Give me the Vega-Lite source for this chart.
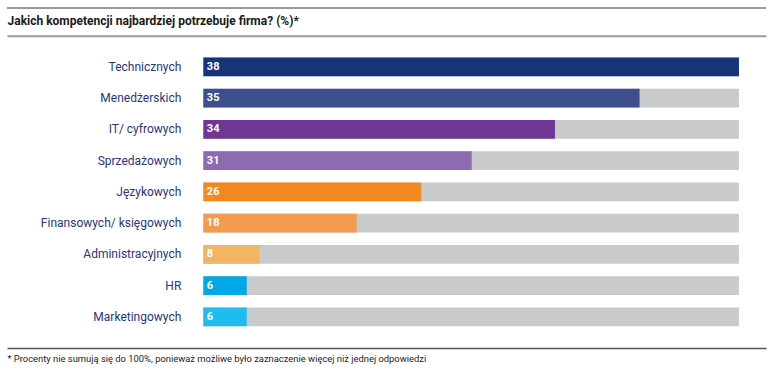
{
  "$schema": "https://vega.github.io/schema/vega-lite/v6.json",
  "width": 759,
  "height": 331.25,
  "autosize": {"type": "none"},
  "padding": {"left": 7, "top": 8, "right": 12, "bottom": 32.75},
  "background": "white",
  "config": {
    "font": "Roboto",
    "view": {"stroke": "#9a9a9a", "strokeWidth": 2, "strokeDash": [759, 3000]}
  },
  "data": {
    "values": [
      {"skill": "Technicznych", "pct": 38, "bar_value": 38},
      {"skill": "Menedżerskich", "pct": 35, "bar_value": 30.95},
      {"skill": "IT/ cyfrowych", "pct": 34, "bar_value": 24.95},
      {"skill": "Sprzedażowych", "pct": 31, "bar_value": 19.04},
      {"skill": "Językowych", "pct": 26, "bar_value": 15.46},
      {"skill": "Finansowych/ księgowych", "pct": 18, "bar_value": 10.88},
      {"skill": "Administracyjnych", "pct": 8, "bar_value": 3.97},
      {"skill": "HR", "pct": 6, "bar_value": 3.08},
      {"skill": "Marketingowych", "pct": 6, "bar_value": 3.08}
    ]
  },
  "encoding": {
    "y": {
      "field": "skill",
      "type": "nominal",
      "sort": null,
      "scale": {"paddingInner": 0.4, "paddingOuter": 1, "align": 0.791},
      "axis": null
    }
  },
  "resolve": {"axis": {"x": "independent"}},
  "layer": [
    {
      "mark": {"type": "bar", "color": "#c9cacc"},
      "encoding": {
        "x": {
          "datum": 38,
          "type": "quantitative",
          "scale": {"domain": [-13.93, 39.92], "nice": false, "zero": false},
          "axis": {
            "orient": "top",
            "offset": -27.7,
            "domain": true,
            "domainColor": "#9a9a9a",
            "domainWidth": 2,
            "ticks": false,
            "labels": false,
            "grid": false,
            "title": "Jakich kompetencji najbardziej potrzebuje firma? (%)*",
            "titleAnchor": "start",
            "titleFont": "Roboto",
            "titleFontWeight": "bold",
            "titleFontSize": 12,
            "titleColor": "#1a1a1a",
            "titlePadding": 8
          }
        },
        "x2": {"datum": 0}
      }
    },
    {
      "mark": {"type": "bar"},
      "encoding": {
        "x": {
          "field": "bar_value",
          "type": "quantitative",
          "axis": {
            "orient": "bottom",
            "offset": 8.75,
            "domain": true,
            "domainColor": "#555555",
            "domainWidth": 1.5,
            "ticks": false,
            "labels": false,
            "grid": false,
            "title": "* Procenty nie sumują się do 100%, ponieważ możliwe było zaznaczenie więcej niż jednej odpowiedzi",
            "titleAnchor": "start",
            "titleFont": "Roboto",
            "titleFontWeight": "normal",
            "titleFontSize": 9.4,
            "titleColor": "#222222",
            "titlePadding": 6
          }
        },
        "x2": {"datum": 0},
        "color": {
          "field": "skill",
          "type": "nominal",
          "scale": {
            "domain": ["Technicznych", "Menedżerskich", "IT/ cyfrowych", "Sprzedażowych", "Językowych", "Finansowych/ księgowych", "Administracyjnych", "HR", "Marketingowych"],
            "range": ["#15357a", "#3d4f8f", "#6e3795", "#8d6bb1", "#f28a21", "#f49c4e", "#f2b563", "#00a8e8", "#1dbdef"]
          },
          "legend": null
        }
      }
    },
    {
      "mark": {"type": "text", "align": "right", "baseline": "middle", "dx": -22, "fontSize": 12, "color": "#283580"},
      "encoding": {
        "x": {"datum": 0, "type": "quantitative", "axis": null},
        "text": {"field": "skill"}
      }
    },
    {
      "mark": {"type": "text", "align": "left", "baseline": "middle", "dx": 3.5, "fontSize": 11, "fontWeight": "bold", "color": "white"},
      "encoding": {
        "x": {"datum": 0, "type": "quantitative", "axis": null},
        "text": {"field": "pct"}
      }
    }
  ]
}
